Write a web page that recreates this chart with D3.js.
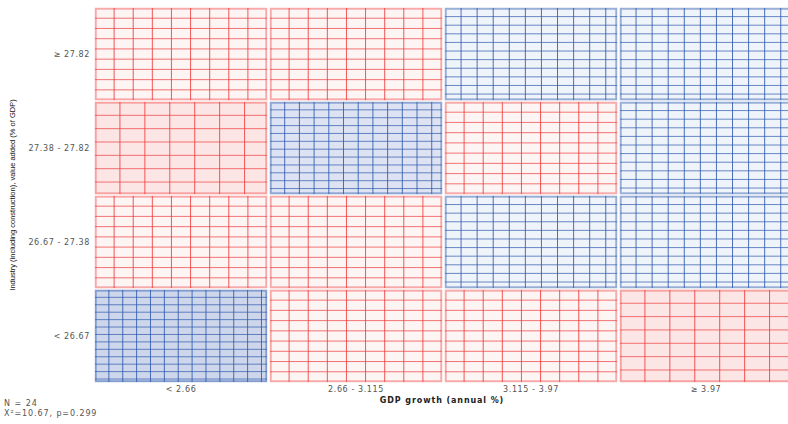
<!DOCTYPE html>
<html>
<head>
<meta charset="utf-8">
<script src="https://cdn.jsdelivr.net/npm/d3@7"></script>
<style>
  html, body { margin: 0; padding: 0; background: #fff; }
  svg { display: block; }
</style>
</head>
<body>
<svg id="chart" width="788" height="424"></svg>
<script>
// ---- data ----
const xCategories = ["< 2.66", "2.66 - 3.115", "3.115 - 3.97", "≥ 3.97"];
const yCategories = ["≥ 27.82", "27.38 - 27.82", "26.67 - 27.38", "< 26.67"];
// observed counts, rows = yCategories (top to bottom), cols = xCategories
const observed = [
  [1, 1, 2, 2],
  [0, 3, 1, 2],
  [1, 1, 2, 2],
  [4, 1, 1, 0]
];
const divisionsByCount = [6.9, 9, 10.7, 11.7, 12.4];
const totalN = 24;
const statsText = "X²=10.67, p=0.299";
const xTitle = "GDP growth (annual %)";
const yTitle = "Industry (including construction), value added (% of GDP)";

// ---- drawing ----
const svg = d3.select("#chart");
const x = d3.scaleBand().domain(xCategories).range([95, 792]).paddingInner(0.017).paddingOuter(0);
const y = d3.scaleBand().domain(yCategories).range([8, 382]).paddingInner(0.02).paddingOuter(0);

const expected = totalN / (xCategories.length * yCategories.length);
function fillFor(o) {
  if (o === 0) return "#fce5e5";
  if (o < expected) return "#fdf4f4";
  if (o === 2) return "#eff3fa";
  if (o === 3) return "#dde3f3";
  return "#ced6ec";
}
function lineFor(o) { return o < expected ? "#f03c3c" : "#2f5aac"; }
function borderFor(o) { return o < expected ? "rgba(240,60,60,0.4)" : "rgba(47,90,172,0.45)"; }

const cells = [];
yCategories.forEach((yc, r) => xCategories.forEach((xc, c) => cells.push({ xc, yc, o: observed[r][c] })));

const g = svg.append("g");
cells.forEach(d => {
  const x0 = x(d.xc), y0 = y(d.yc), w = x.bandwidth(), h = y.bandwidth();
  const n = divisionsByCount[d.o];
  const cg = g.append("g");
  cg.append("rect").attr("x", x0).attr("y", y0).attr("width", w).attr("height", h)
    .attr("fill", fillFor(d.o));
  const sx = w / n, sy = h / n;
  for (let i = 1; i * sx < w - 0.5; i++) {
    cg.append("line").attr("x1", x0 + i * sx).attr("x2", x0 + i * sx)
      .attr("y1", y0).attr("y2", y0 + h)
      .attr("stroke", lineFor(d.o)).attr("stroke-width", 1).attr("stroke-opacity", 0.85);
  }
  for (let j = 1; j * sy < h - 0.5; j++) {
    cg.append("line").attr("x1", x0).attr("x2", x0 + w)
      .attr("y1", y0 + j * sy).attr("y2", y0 + j * sy)
      .attr("stroke", lineFor(d.o)).attr("stroke-width", 1).attr("stroke-opacity", 0.7);
  }
  cg.append("rect").attr("x", x0 + 0.75).attr("y", y0 + 0.75).attr("width", w - 1.5).attr("height", h - 1.5)
    .attr("fill", "none").attr("stroke", borderFor(d.o)).attr("stroke-width", 2);
});

// axes labels
const font = "DejaVu Sans, Verdana, sans-serif";
svg.append("g").selectAll("text").data(yCategories).join("text")
  .attr("x", 90).attr("y", d => y(d) + y.bandwidth() / 2 + 3)
  .attr("text-anchor", "end").attr("font-family", font).attr("font-size", 8)
  .attr("letter-spacing", 0.6).attr("fill", "#555").text(d => d);

svg.append("g").selectAll("text").data(xCategories).join("text")
  .attr("x", d => x(d) + x.bandwidth() / 2).attr("y", 392)
  .attr("text-anchor", "middle").attr("font-family", font).attr("font-size", 8)
  .attr("letter-spacing", 0.6).attr("fill", "#555").text(d => d);

svg.append("text").attr("x", 442).attr("y", 403).attr("text-anchor", "middle")
  .attr("font-family", font).attr("font-size", 8).attr("font-weight", "bold")
  .attr("letter-spacing", 0.9).attr("fill", "#222").text(xTitle);

svg.append("text").attr("transform", "translate(15,195) rotate(-90)")
  .attr("text-anchor", "middle").attr("font-family", "Liberation Sans, Arial, sans-serif")
  .attr("font-size", 7.5).attr("fill", "#111").text(yTitle);

svg.append("text").attr("x", 4).attr("y", 406).attr("font-family", font).attr("font-size", 8)
  .attr("letter-spacing", 1).attr("fill", "#555").text("N = " + totalN);
svg.append("text").attr("x", 4).attr("y", 416).attr("font-family", font).attr("font-size", 8)
  .attr("letter-spacing", 0.9).attr("fill", "#555").text(statsText);
</script>
</body>
</html>
